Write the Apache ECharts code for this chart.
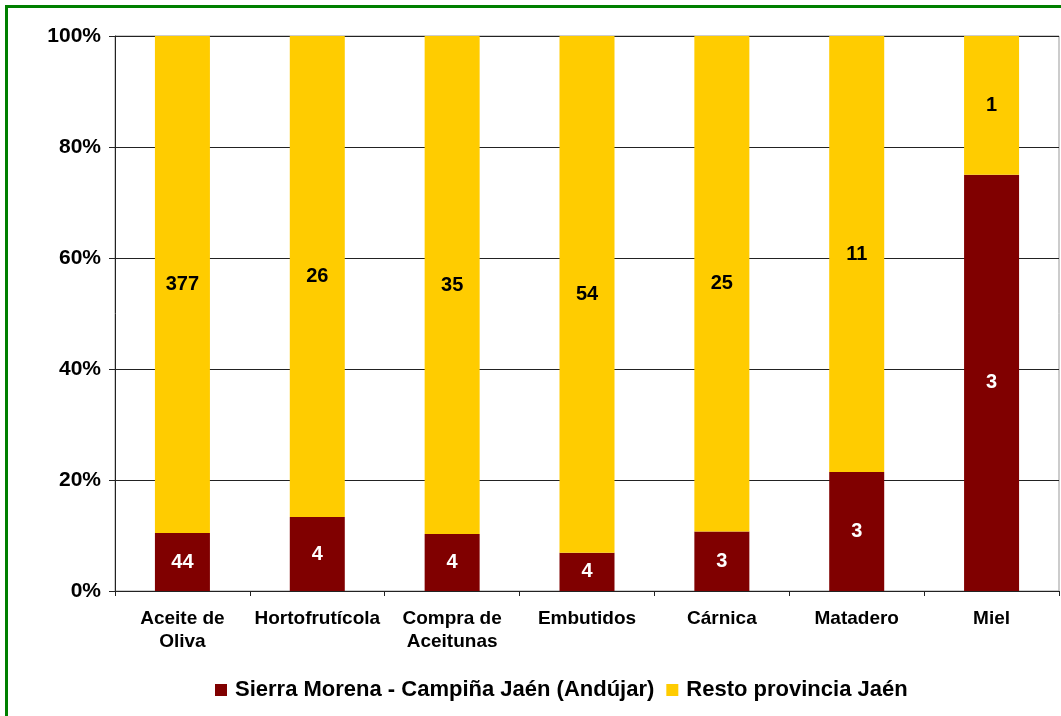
<!DOCTYPE html>
<html>
<head>
<meta charset="utf-8">
<script src="https://cdn.jsdelivr.net/npm/echarts@6/dist/echarts.min.js"></script>
<style>
  html, body { margin: 0; padding: 0; overflow: hidden; background: #fff; }
  #frame { position: absolute; left: 5px; top: 5px; width: 1100px; height: 760px; border: 3px solid #008000; }
  #main { position: absolute; left: 0; top: 0; width: 1061px; height: 716px; }
</style>
</head>
<body>
<div id="frame"></div>
<div id="main"></div>
<script>
  const categories = ["Aceite de\nOliva", "Hortofrutícola", "Compra de\nAceitunas", "Embutidos", "Cárnica", "Matadero", "Miel"];
  const sierraMorena = [44, 4, 4, 4, 3, 3, 3];
  const restoProvincia = [377, 26, 35, 54, 25, 11, 1];
  const yTicks = ["0%", "20%", "40%", "60%", "80%", "100%"];

  const totals = sierraMorena.map((v, i) => v + restoProvincia[i]);
  const toPct = (arr) => arr.map((v, i) => ({ value: (v / totals[i]) * 100, raw: v }));

  let chartDom = document.getElementById("main");
  let myChart = echarts.init(chartDom);
  let option;
  option = {
    animation: false,
    textStyle: { fontFamily: "Liberation Sans, Arial, sans-serif" },
    grid: {
      left: 115,
      right: 2,
      top: 36,
      bottom: 125,
      show: true,
      borderColor: "#999",
      borderWidth: 1,
    },
    legend: {
      left: 210,
      top: 674,
      itemWidth: 12,
      itemHeight: 12,
      itemGap: 12,
      icon: "rect",
      textStyle: { fontSize: 22, fontWeight: "bold", color: "#000", padding: [0, 0, 0, 3] },
      data: ["Sierra Morena - Campiña Jaén (Andújar)", "Resto provincia Jaén"],
    },
    xAxis: {
      type: "category",
      data: categories,
      axisLine: { lineStyle: { color: "#222", width: 1 } },
      axisTick: { show: true, length: 5, lineStyle: { color: "#222" } },
      axisLabel: {
        fontSize: 19,
        fontWeight: "bold",
        color: "#000",
        lineHeight: 23,
        margin: 16,
        interval: 0,
      },
    },
    yAxis: {
      type: "value",
      min: 0,
      max: 100,
      interval: 20,
      axisLine: { show: true, lineStyle: { color: "#222", width: 1 } },
      axisTick: { show: true, length: 6, lineStyle: { color: "#222" } },
      splitLine: { lineStyle: { color: "#222", width: 1 } },
      axisLabel: {
        fontSize: 21,
        fontWeight: "bold",
        color: "#000",
        margin: 14,
        formatter: (v) => yTicks[Math.round(v / 20)],
      },
    },
    series: [
      {
        name: "Sierra Morena - Campiña Jaén (Andújar)",
        type: "bar",
        stack: "total",
        barWidth: 55,
        itemStyle: { color: "#800000" },
        label: {
          show: true,
          position: "inside",
          color: "#fff",
          fontSize: 20,
          fontWeight: "bold",
          formatter: (p) => p.data.raw,
        },
        data: toPct(sierraMorena),
      },
      {
        name: "Resto provincia Jaén",
        type: "bar",
        stack: "total",
        barWidth: 55,
        itemStyle: { color: "#FFCC00" },
        label: {
          show: true,
          position: "inside",
          color: "#000",
          fontSize: 20,
          fontWeight: "bold",
          formatter: (p) => p.data.raw,
        },
        data: toPct(restoProvincia),
      },
    ],
  };
  myChart.setOption(option);
</script>
</body>
</html>
